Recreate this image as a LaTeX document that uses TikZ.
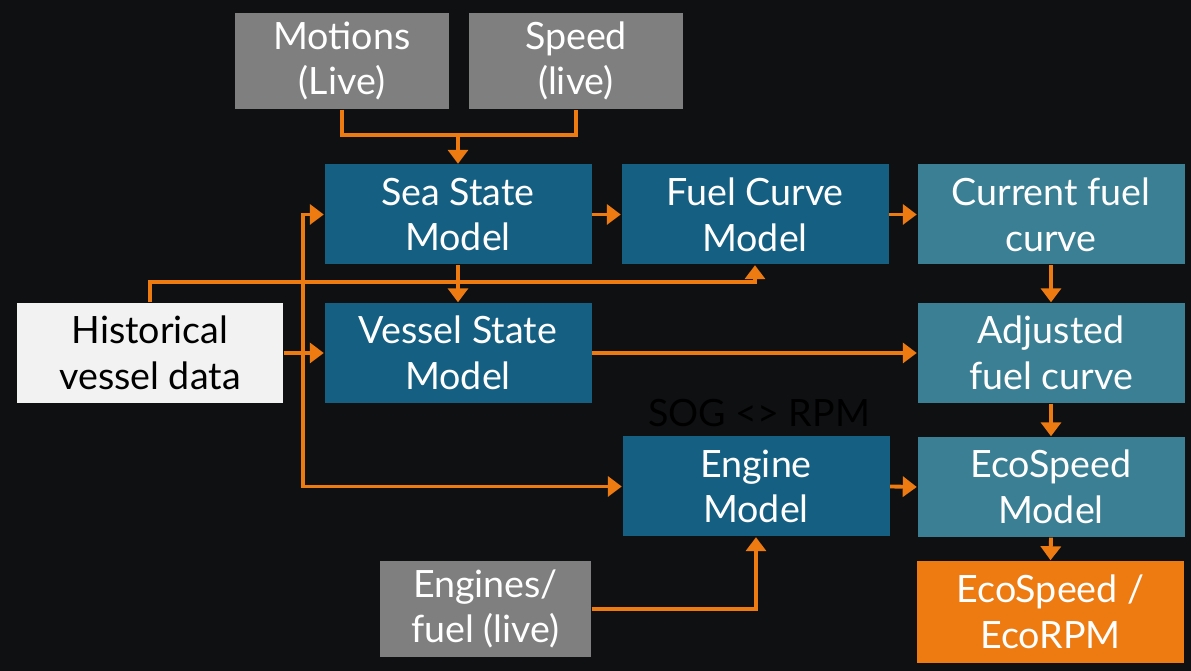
\documentclass[tikz,border=0pt]{standalone}
\usepackage{fontspec}
\setmainfont{Lato}
\usetikzlibrary{arrows.meta}
\definecolor{bg}{HTML}{0E1012}
\definecolor{gbox}{HTML}{7F7F7F}
\definecolor{dblue}{HTML}{156082}
\definecolor{tblue}{HTML}{3A7F93}
\definecolor{orng}{HTML}{EE7B12}
\definecolor{hbox}{HTML}{F2F2F2}
\tikzset{
  box/.style={rectangle, inner sep=0pt, align=center, text=white,
    font=\fontsize{10.7}{13}\selectfont, minimum width=2.67cm, minimum height=1.0cm},
  graybox/.style={box, fill=gbox, minimum width=2.14cm, minimum height=0.96cm},
  modelbox/.style={box, fill=dblue},
  curvebox/.style={box, fill=tblue},
  histbox/.style={box, fill=hbox, text=black},
  outbox/.style={box, fill=orng, minimum height=1.02cm},
  conn/.style={draw=orng, line width=1.1pt},
  arr/.style={conn, -{Triangle[length=1.4mm, width=2.0mm]}},
}
\begin{document}
\begin{tikzpicture}
\fill[bg] (0,0) rectangle (11.91,-6.71);
\useasboundingbox (0,0) rectangle (11.91,-6.71);

\node[graybox] (mot) at (3.42,-0.61) {Motions\\(Live)};
\node[graybox] (spd) at (5.76,-0.61) {Speed\\(live)};
\node[modelbox] (sea) at (4.58,-2.145) {Sea State\\Model};
\node[modelbox] (fcm) at (7.55,-2.145) {Fuel Curve\\Model};
\node[curvebox] (cur) at (10.51,-2.145) {Current fuel\\curve};
\node[histbox, minimum width=2.66cm] (his) at (1.50,-3.53) {Historical\\vessel data};
\node[modelbox] (ves) at (4.58,-3.53) {Vessel State\\Model};
\node[curvebox] (adj) at (10.51,-3.53) {Adjusted\\fuel curve};
\node[font=\fontsize{10.7}{13}\selectfont, text=black, inner sep=0pt] (sog) at (7.59,-4.13) {SOG <> RPM};
\node[modelbox] (eng) at (7.56,-4.865) {Engine\\Model};
\node[curvebox] (eco) at (10.51,-4.87) {EcoSpeed\\Model};
\node[graybox, minimum width=2.11cm] (engf) at (4.855,-6.09) {Engines/\\fuel (live)};
\node[outbox] (out) at (10.505,-6.12) {EcoSpeed /\\EcoRPM};

\coordinate (j1) at (4.58,-1.35);
\draw[conn] (mot.south) |- (j1) -| (spd.south);
\draw[arr] (j1) -- (sea.north);
\draw[arr] (sea.east) -- (fcm.west);
\draw[arr] (fcm.east) -- (cur.west);
\draw[arr] (cur.south) -- (adj.north);
\draw[arr] (adj.south) -- (eco.north);
\draw[arr] (eco.south) -- (out.north);
\draw[arr] (eng.east) -- (eco.west);
\draw[arr] (ves.east) -- (adj.west);
\draw[arr] (sea.south) -- (ves.north);
\draw[arr] (his.east) -- (ves.west);
\draw[arr] (his.north) -- ++(0,0.2) -| (fcm.south);
\coordinate (b) at (3.03,-3.53);
\draw[arr] (b) |- (sea.west);
\draw[arr] (b) |- (eng.west);
\draw[arr] (engf.east) -| (eng.south);
\end{tikzpicture}
\end{document}
